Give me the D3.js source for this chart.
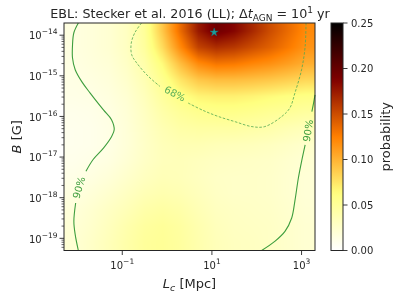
<!DOCTYPE html>
<html><head><meta charset="utf-8">
<script src="https://cdn.jsdelivr.net/npm/d3@7"></script>
<style>
html,body{margin:0;padding:0;background:#fff;}
#wrap{position:relative;width:399px;height:297px;overflow:hidden;}
canvas,svg{position:absolute;left:0;top:0;}
text{font-family:"DejaVu Sans",sans-serif;fill:#262626;}
</style></head>
<body><div id="wrap"><canvas id="hm" width="399" height="297"></canvas><svg id="svg" width="399" height="297"></svg></div>
<script>
// ---- data (log10 values) ----
const lcExp = [-2.1,-1.7,-1.3,-0.9,-0.5,-0.1,0.3,0.7,1.1,1.5,1.9,2.3,2.7,3.1];
const bExp  = [-13.9,-14.3,-14.7,-15.1,-15.5,-15.9,-16.3,-16.7,-17.1,-17.5,-17.9,-18.3,-18.7,-19.1];
const prob = [
 [0.015,0.018,0.022,0.030,0.050,0.090,0.135,0.175,0.195,0.185,0.168,0.150,0.135,0.120],
 [0.015,0.018,0.022,0.030,0.048,0.080,0.120,0.155,0.165,0.160,0.150,0.140,0.128,0.115],
 [0.014,0.017,0.020,0.028,0.042,0.065,0.095,0.120,0.130,0.128,0.122,0.117,0.110,0.102],
 [0.013,0.015,0.018,0.025,0.037,0.055,0.075,0.090,0.095,0.095,0.093,0.090,0.086,0.082],
 [0.012,0.013,0.016,0.022,0.033,0.048,0.060,0.068,0.070,0.070,0.068,0.065,0.062,0.060],
 [0.010,0.011,0.014,0.020,0.030,0.042,0.050,0.055,0.057,0.057,0.055,0.052,0.050,0.047],
 [0.009,0.010,0.013,0.019,0.028,0.037,0.043,0.045,0.045,0.045,0.043,0.041,0.037,0.034],
 [0.009,0.010,0.013,0.019,0.027,0.034,0.037,0.037,0.035,0.034,0.033,0.031,0.028,0.025],
 [0.010,0.012,0.015,0.021,0.028,0.033,0.034,0.032,0.030,0.029,0.028,0.027,0.024,0.021],
 [0.012,0.015,0.019,0.025,0.031,0.035,0.034,0.031,0.028,0.027,0.027,0.026,0.023,0.020],
 [0.015,0.019,0.024,0.030,0.036,0.039,0.037,0.033,0.029,0.027,0.027,0.026,0.023,0.020],
 [0.018,0.023,0.029,0.035,0.042,0.045,0.042,0.036,0.031,0.029,0.028,0.027,0.024,0.021],
 [0.020,0.025,0.032,0.040,0.047,0.050,0.046,0.039,0.033,0.030,0.029,0.028,0.025,0.022],
 [0.021,0.027,0.034,0.042,0.049,0.051,0.047,0.040,0.034,0.031,0.030,0.028,0.025,0.022]
];
// contour segments [logLc, logB]
const c90LeftA = [[-1.98,-13.70],[-2.08,-13.94],[-2.11,-14.24],[-2.11,-14.56],[-2.05,-14.85],[-1.90,-15.15],[-1.72,-15.42],[-1.42,-15.84],[-1.24,-16.08],[-1.18,-16.33],[-1.24,-16.50],[-1.42,-16.78],[-1.65,-17.06],[-1.81,-17.35]];
const c90LeftB = [[-2.04,-18.13],[-2.08,-18.58],[-2.05,-18.91],[-1.98,-19.30]];
const c90RightA = [[3.30,-15.47],[3.27,-15.66],[3.23,-15.88]];
const c90RightB = [[3.08,-16.70],[3.00,-17.11],[2.93,-17.51],[2.85,-18.09],[2.78,-18.50],[2.63,-18.83],[2.41,-19.07],[2.11,-19.30]];
const c68A = [[-0.57,-13.70],[-0.72,-13.94],[-0.80,-14.20],[-0.79,-14.48],[-0.68,-14.68],[-0.43,-15.00],[-0.16,-15.26]];
const c68B = [[0.47,-15.67],[0.80,-15.85],[1.14,-16.00],[1.52,-16.13],[1.89,-16.25],[2.18,-16.25],[2.56,-16.00],[2.74,-15.79],[2.85,-15.43],[3.00,-14.85],[3.08,-14.28],[3.10,-13.70]];
const contourLabels = [
  {text:"68%", lc:0.177, b:-15.44, angle:27, dashed:true},
  {text:"90%", lc:-1.965, b:-17.75, angle:-74, dashed:false},
  {text:"90%", lc:3.144, b:-16.35, angle:-81, dashed:false}
];
const best = {lc:1.05, b:-13.93};
const yTickExp = [-19,-18,-17,-16,-15,-14];
const xTickExp = [-1,1,3];
const cbTicks = [0,0.05,0.10,0.15,0.20,0.25];

// ---- layout ----
const L=64, R=315, T=23, B=250.5;
const x = d3.scaleLog().domain([Math.pow(10,-2.3), Math.pow(10,3.3)]).range([L,R]);
const y = d3.scaleLog().domain([Math.pow(10,-19.3), Math.pow(10,-13.7)]).range([B,T]);
const vmax = 0.25;
function afmhotR(v){
  const t = 1 - Math.max(0,Math.min(1,v/vmax));
  const cl = a=>Math.max(0,Math.min(1,a));
  return [cl(2*t)*255, cl(2*t-0.5)*255, cl(2*t-1)*255];
}

// ---- heatmap ----
const cv = document.getElementById('hm');
const ctx = cv.getContext('2d');
const W = R-L, H = Math.round(B-T);
const img = ctx.createImageData(W,H);
const dx = lcExp[1]-lcExp[0], dyv = bExp[1]-bExp[0];
for(let j=0;j<H;j++){
  const ly = Math.log10(y.invert(T+j+0.5));
  let fj = (ly-bExp[0])/dyv; fj = Math.max(0,Math.min(bExp.length-1,fj));
  const j0 = Math.min(Math.floor(fj), bExp.length-2), tj = fj-j0;
  for(let i=0;i<W;i++){
    const lx = Math.log10(x.invert(L+i+0.5));
    let fi = (lx-lcExp[0])/dx; fi = Math.max(0,Math.min(lcExp.length-1,fi));
    const i0 = Math.min(Math.floor(fi), lcExp.length-2), ti = fi-i0;
    const v = (1-tj)*((1-ti)*prob[j0][i0]+ti*prob[j0][i0+1]) + tj*((1-ti)*prob[j0+1][i0]+ti*prob[j0+1][i0+1]);
    const c = afmhotR(v), k=(j*W+i)*4;
    img.data[k]=c[0]; img.data[k+1]=c[1]; img.data[k+2]=c[2]; img.data[k+3]=255;
  }
}
ctx.putImageData(img, L, T);

// ---- svg ----
const svg = d3.select('#svg');
const axisCol = '#262626';

// contours
const line = d3.line().x(d=>x(Math.pow(10,d[0]))).y(d=>y(Math.pow(10,d[1]))).curve(d3.curveCatmullRom);
const green = '#3e9e3e';
const cg = svg.append('g');
[c90LeftA,c90LeftB,c90RightA,c90RightB].forEach(s=>cg.append('path').attr('d',line(s)).attr('fill','none').attr('stroke',green).attr('stroke-width',1.1));
[c68A,c68B].forEach(s=>cg.append('path').attr('d',line(s)).attr('fill','none').attr('stroke','#52a852').attr('stroke-width',0.8).attr('stroke-dasharray','2.6,1.6'));
contourLabels.forEach(l=>{
  cg.append('text').attr('transform',`translate(${x(Math.pow(10,l.lc))},${y(Math.pow(10,l.b))}) rotate(${l.angle})`)
    .attr('text-anchor','middle').attr('dominant-baseline','central')
    .style('fill', l.dashed ? '#5aae5a' : '#3e9e3e').style('font-size','10px').text(l.text);
});

// star
svg.append('path').attr('d', d3.symbol().type(d3.symbolStar).size(22)())
  .attr('transform',`translate(${x(Math.pow(10,best.lc))},${y(Math.pow(10,best.b))})`)
  .attr('fill','#1e9c9c').attr('stroke','#0f6f6f').attr('stroke-width',0.4);

// frame
svg.append('rect').attr('x',L).attr('y',T).attr('width',R-L).attr('height',B-T)
  .attr('fill','none').attr('stroke',axisCol).attr('stroke-width',1);

// y axis
const yMinor = [];
for(let e=-20;e<=-13;e++) for(let m=2;m<=9;m++){ const v=m*Math.pow(10,e); if(v>=y.domain()[0]&&v<=y.domain()[1]) yMinor.push(v); }
const ya = svg.append('g');
yMinor.forEach(v=>ya.append('line').attr('x1',L-2.5).attr('x2',L).attr('y1',y(v)).attr('y2',y(v)).attr('stroke',axisCol).attr('stroke-width',0.7));
yTickExp.forEach(e=>{
  const yy = y(Math.pow(10,e));
  ya.append('line').attr('x1',L-4.5).attr('x2',L).attr('y1',yy).attr('y2',yy).attr('stroke',axisCol).attr('stroke-width',0.9);
  const t = ya.append('text').attr('x',L-6.5).attr('y',yy+4.3).attr('text-anchor','end').style('font-size','10px');
  t.append('tspan').text('10');
  t.append('tspan').attr('dy',-5).style('font-size','7.5px').text('\u2212'+Math.abs(e));
});
// x axis
xTickExp.forEach(e=>{
  const xx = x(Math.pow(10,e));
  svg.append('line').attr('x1',xx).attr('x2',xx).attr('y1',B).attr('y2',B+4.5).attr('stroke',axisCol).attr('stroke-width',0.9);
  const t = svg.append('text').attr('x',xx).attr('y',B+18).attr('text-anchor','middle').style('font-size','10px');
  t.append('tspan').text('10');
  t.append('tspan').attr('dy',-5).style('font-size','7.5px').text(e<0?'\u2212'+Math.abs(e):String(e));
});

// axis labels
const xl = svg.append('text').attr('x',(L+R)/2).attr('y',288).attr('text-anchor','middle').style('font-size','13px');
xl.append('tspan').style('font-style','italic').text('L');
xl.append('tspan').attr('dy',3).style('font-size','9.5px').style('font-style','italic').text('c');
xl.append('tspan').attr('dy',-3).text(' [Mpc]');
const yl = svg.append('text').attr('transform',`translate(21,${(T+B)/2}) rotate(-90)`).attr('text-anchor','middle').style('font-size','13px');
yl.append('tspan').style('font-style','italic').text('B');
yl.append('tspan').text(' [G]');

// title
const tt = svg.append('text').attr('x',190).attr('y',18).attr('text-anchor','middle').style('font-size','12.7px');
tt.append('tspan').text('EBL: Stecker et al. 2016 (LL); \u0394');
tt.append('tspan').style('font-style','italic').text('t');
tt.append('tspan').attr('dy',2.5).style('font-size','9px').text('AGN');
tt.append('tspan').attr('dy',-2.5).text(' = 10');
tt.append('tspan').attr('dy',-5).style('font-size','9px').text('1');
tt.append('tspan').attr('dy',5).text(' yr');

// colorbar
const cbX=331, cbW=12, cbT=23, cbB=250.5;
const cy = d3.scaleLinear().domain([0,vmax]).range([cbB,cbT]);
const defs = svg.append('defs');
const grad = defs.append('linearGradient').attr('id','cbg').attr('x1',0).attr('y1',1).attr('x2',0).attr('y2',0);
d3.range(0,1.0001,0.02).forEach(f=>{ const c=afmhotR(f*vmax); grad.append('stop').attr('offset',f).attr('stop-color',`rgb(${c.map(Math.round).join(',')})`); });
svg.append('rect').attr('x',cbX).attr('y',cbT).attr('width',cbW).attr('height',cbB-cbT).attr('fill','url(#cbg)').attr('stroke',axisCol).attr('stroke-width',1);
cbTicks.forEach(v=>{
  svg.append('line').attr('x1',cbX+cbW).attr('x2',cbX+cbW+4.5).attr('y1',cy(v)).attr('y2',cy(v)).attr('stroke',axisCol).attr('stroke-width',0.9);
  svg.append('text').attr('x',cbX+cbW+8).attr('y',cy(v)+3.7).style('font-size','10px').text(v.toFixed(2));
});
svg.append('text').attr('transform',`translate(390,${(cbT+cbB)/2}) rotate(-90)`).attr('text-anchor','middle').style('font-size','13px').text('probability');
</script></body></html>
